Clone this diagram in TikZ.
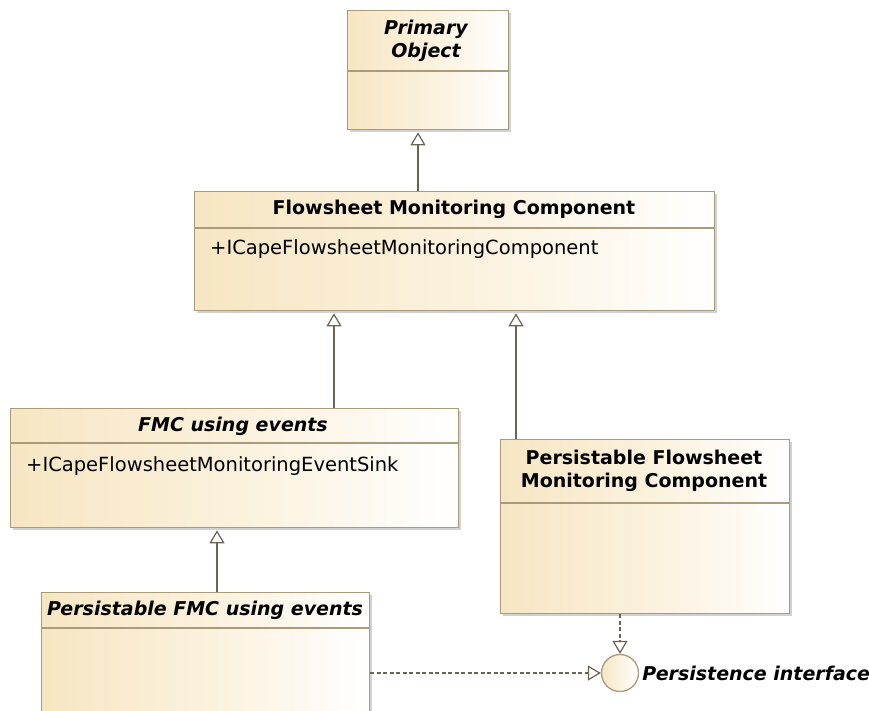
\documentclass[tikz,border=0pt]{standalone}
\usepackage{fontspec}
\setmainfont{DejaVu Sans}
\usetikzlibrary{arrows.meta,shadows,calc}

\definecolor{boxfill}{HTML}{F6E6C3}
\definecolor{boxmid}{HTML}{FBF1DC}
\definecolor{boxline}{HTML}{A99B7B}
\definecolor{connline}{HTML}{6B6354}

\tikzset{
  classbox/.style={rectangle, draw=boxline, line width=1.3pt, inner sep=0pt,
    left color=boxfill, right color=white, middle color=boxmid,
    general shadow={fill=black!18, shadow xshift=2.5pt, shadow yshift=-2.5pt},
    anchor=north west},
  divider/.style={draw=boxline, line width=1.3pt},
  classname/.style={font=\fontsize{19}{23.5}\selectfont\bfseries, align=center, inner sep=0pt},
  abstractname/.style={classname, font=\fontsize{19}{23.5}\selectfont\bfseries\itshape},
  member/.style={font=\fontsize{19.5}{23}\selectfont, anchor=west, inner sep=0pt},
  gen/.style={draw=connline, line width=1.4pt,
    -{Triangle[open, length=13pt, width=15pt, line width=1.2pt]}},
  real/.style={gen, dash pattern=on 4pt off 2.5pt, line width=1.1pt},
  iface/.style={circle, draw=boxline, line width=1.3pt, minimum size=37pt, inner sep=0pt,
    left color=boxfill, right color=white}
}

\begin{document}
\begin{tikzpicture}[x=1pt, y=-1pt]
  \useasboundingbox (0,0) rectangle (869,710);
  \clip (0,0) rectangle (869,710);

  % class boxes
  \node[classbox, minimum width=161pt, minimum height=119pt] (po) at (347,10) {};
  \node[classbox, minimum width=520pt, minimum height=119pt] (fmc) at (194,191) {};
  \node[classbox, minimum width=448pt, minimum height=119pt] (fmce) at (10,408) {};
  \node[classbox, minimum width=289pt, minimum height=174pt] (pfmc) at (500,439) {};
  \node[classbox, minimum width=328pt, minimum height=140pt] (pfmce) at (41,592) {};

  % compartment dividers
  \draw[divider] ([yshift=-61pt]po.north west) -- ([yshift=-61pt]po.north east);
  \draw[divider] ([yshift=-37pt]fmc.north west) -- ([yshift=-37pt]fmc.north east);
  \draw[divider] ([yshift=-35pt]fmce.north west) -- ([yshift=-35pt]fmce.north east);
  \draw[divider] ([yshift=-64pt]pfmc.north west) -- ([yshift=-64pt]pfmc.north east);
  \draw[divider] ([yshift=-36pt]pfmce.north west) -- ([yshift=-36pt]pfmce.north east);

  % names and members
  \node[abstractname] (potitle) at (426,41) {Primary\\Object};
  \node[classname] (fmctitle) at (454,209) {Flowsheet Monitoring Component};
  \node[member] (fmcm) at (210,249) {+ICapeFlowsheetMonitoringComponent};
  \node[abstractname] (fmcetitle) at (233,426) {FMC using events};
  \node[member] (fmcem) at (26,466) {+ICapeFlowsheetMonitoringEventSink};
  \node[classname] (pfmctitle) at (644,471) {Persistable Flowsheet\\Monitoring Component};
  \node[abstractname] (pfmcetitle) at (205,610) {Persistable FMC using events};

  % interface
  \node[iface] (pi) at (620,673) {};
  \node[abstractname, anchor=west] (pilabel) at ([xshift=3pt]pi.east) {Persistence interface};

  % generalisations
  \coordinate (g1) at (418,191);
  \coordinate (g2) at (334,408);
  \coordinate (g3) at (516,439);
  \coordinate (g4) at (217,592);
  \draw[gen] (g1) -- ([yshift=-2pt]g1 |- po.south);
  \draw[gen] (g2) -- ([yshift=-2pt]g2 |- fmc.south);
  \draw[gen] (g3) -- ([yshift=-2pt]g3 |- fmc.south);
  \draw[gen] (g4) -- ([yshift=-2pt]g4 |- fmce.south);

  % realisations of the interface
  \draw[real] (pi.north |- pfmc.south) -- (pi.north);
  \draw[real] (pi.west -| pfmce.east) -- (pi.west);
\end{tikzpicture}
\end{document}
